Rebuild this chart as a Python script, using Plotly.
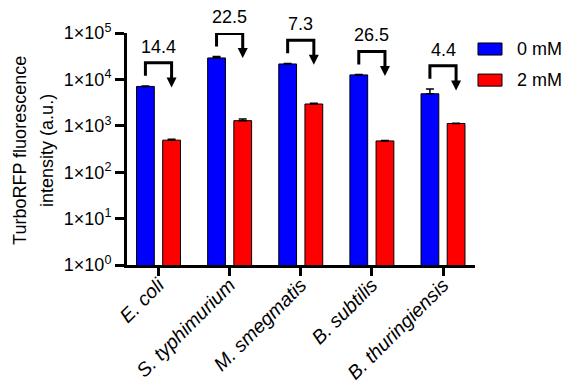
import math
import plotly.graph_objects as go

# ---------------- data ----------------
species = ["E. coli", "S. typhimurium", "M. smegmatis", "B. subtilis", "B. thuringiensis"]
series_names = ["0 mM", "2 mM"]
blue_vals = [7050, 29000, 21500, 12500, 4900]      # 0 mM
blue_err = [150, 2000, 600, 200, 1300]
red_vals = [490, 1290, 2950, 472, 1120]            # 2 mM
red_err = [20, 120, 100, 10, 20]
fold_labels = ["14.4", "22.5", "7.3", "26.5", "4.4"]
ytick_vals = [1, 10, 100, 1000, 10000, 100000]
ytick_text = ["1×10<sup>%d</sup>" % i for i in range(6)]
y_title_lines = ["TurboRFP fluorescence", "intensity (a.u.)"]

# ---------------- style ----------------
FONT = "Liberation Sans, Arial, sans-serif"
BLUE = "#0000FF"
RED = "#FF0000"
BAR_W = 0.25
OFF = 0.184          # center offset of each bar from category center
YMAX_DEC = 5.0
x_idx = list(range(len(species)))

fig = go.Figure()

fig.add_trace(go.Bar(
    x=x_idx, y=blue_vals, name=series_names[0],
    width=BAR_W, offset=-OFF - BAR_W / 2,
    marker=dict(color=BLUE, line=dict(color="black", width=1)),
    error_y=dict(type="data", array=blue_err, arrayminus=[0] * len(blue_err),
                 symmetric=False, color="black", thickness=1.5, width=4),
    showlegend=False,
))
fig.add_trace(go.Bar(
    x=x_idx, y=red_vals, name=series_names[1],
    width=BAR_W, offset=OFF - BAR_W / 2,
    marker=dict(color=RED, line=dict(color="black", width=1)),
    error_y=dict(type="data", array=red_err, arrayminus=[0] * len(red_err),
                 symmetric=False, color="black", thickness=1.5, width=4),
    showlegend=False,
))

# brackets + arrows (positions derived from the data)
D_BOTTOM = 0.22   # decades above top of blue bar+error
D_TOP = 0.50
D_TIP = -0.03
D_HEAD = 0.11
annotations = []
for i, (b, e, lab) in enumerate(zip(blue_vals, blue_err, fold_labels)):
    base = math.log10(b + e)
    yb = 10 ** (base + D_BOTTOM)
    yt = 10 ** (base + D_TOP)
    ytip = 10 ** (base + D_TIP)
    yhead = 10 ** (base + D_TIP + D_HEAD)
    xl = i - OFF
    xr = i + OFF
    fig.add_trace(go.Scatter(
        x=[xl, xl, xr, xr], y=[yb, yt, yt, yhead],
        mode="lines", line=dict(color="black", width=3),
        showlegend=False, hoverinfo="skip", cliponaxis=False,
    ))
    fig.add_trace(go.Scatter(
        x=[xr], y=[ytip], mode="markers",
        marker=dict(symbol="arrow-down", size=10, color="black", line=dict(width=0)),
        showlegend=False, hoverinfo="skip", cliponaxis=False,
    ))
    annotations.append(dict(
        x=i, y=(base + D_TOP) / YMAX_DEC, xref="x", yref="paper", text=lab,
        showarrow=False, yanchor="bottom", xanchor="center", yshift=4,
        font=dict(family=FONT, size=18, color="black"),
    ))

# y-axis title as two rotated lines
for j, (txt, xp) in enumerate(zip(y_title_lines, [-0.3075, -0.2299])):
    annotations.append(dict(
        x=xp, y=0.496, xref="paper", yref="paper", text=txt, textangle=-90,
        showarrow=False, xanchor="center", yanchor="middle",
        font=dict(family=FONT, size=18, color="black"),
    ))

# manual legend (wide swatches like the original)
shapes = []
for k, (nm, col) in enumerate(zip(series_names, [BLUE, RED])):
    y0 = 0.905 - k * 0.134
    shapes.append(dict(type="rect", xref="paper", yref="paper",
                       x0=1.0086, x1=1.0776, y0=y0, y1=y0 + 0.052,
                       fillcolor=col, line=dict(color="black", width=1)))
    annotations.append(dict(x=1.115, y=y0 + 0.026, xref="paper", yref="paper",
                            text=nm, showarrow=False, xanchor="left", yanchor="middle",
                            font=dict(family=FONT, size=18, color="black")))

fig.update_layout(
    width=568, height=387,
    margin=dict(l=127, r=93, t=33, b=122, autoexpand=False),
    paper_bgcolor="white", plot_bgcolor="white",
    font=dict(family=FONT, size=18, color="black"),
    barmode="overlay",
    annotations=annotations,
    shapes=shapes,
    showlegend=False,
)
fig.update_xaxes(
    range=[-0.443, 4.45], automargin=False,
    tickvals=x_idx, ticktext=["<i>%s</i>" % s for s in species],
    tickangle=-45, ticks="outside", ticklen=8, tickwidth=3, tickcolor="black",
    ticklabelstandoff=-10,
    showline=True, linecolor="black", linewidth=3,
    showgrid=False, zeroline=False,
    tickfont=dict(family=FONT, size=19.5, color="black"),
)
fig.update_yaxes(
    type="log", range=[0, YMAX_DEC], automargin=False,
    tickvals=ytick_vals, ticktext=ytick_text,
    ticks="outside", ticklen=9, tickwidth=3, tickcolor="black",
    showline=True, linecolor="black", linewidth=3,
    showgrid=False, zeroline=False,
    tickfont=dict(family=FONT, size=18, color="black"),
)

fig.write_html("out.html")
